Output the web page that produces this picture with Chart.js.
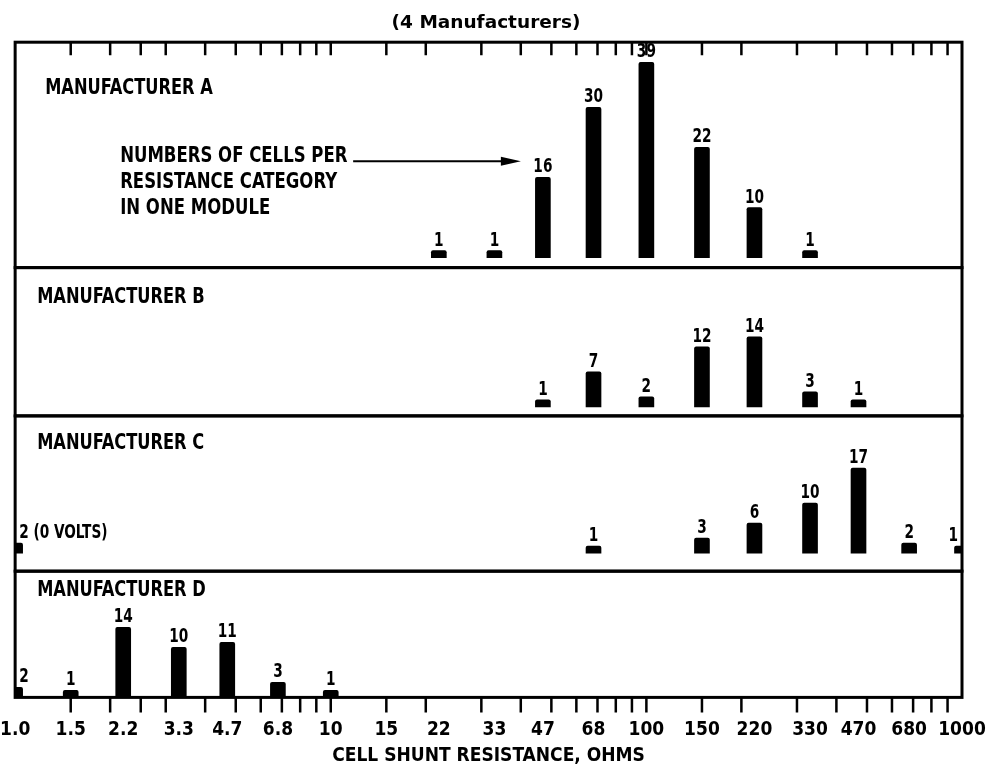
<!DOCTYPE html>
<html>
<head>
<meta charset="utf-8">
<script src="https://cdn.jsdelivr.net/npm/chart.js@4"></script>
<style>
  html, body { margin: 0; padding: 0; background: #fff; }
</style>
</head>
<body>
<canvas id="shuntChart" width="990" height="768"></canvas>
<script>
// resistance categories (ohms) and their printed labels
var resistances = [1.0, 1.5, 2.2, 3.3, 4.7, 6.8, 10, 15, 22, 33, 47, 68, 100, 150, 220, 330, 470, 680, 1000];
var tickLabels = ['1.0', '1.5', '2.2', '3.3', '4.7', '6.8', '10', '15', '22', '33', '47', '68', '100', '150', '220', '330', '470', '680', '1000'];
// small tick marks along the top and bottom edges
var minorTicks = [1.5, 2, 2.5, 3, 4, 5, 6, 7, 8, 9, 10, 15, 20, 30, 40, 50, 60, 70, 80, 90, 100, 150, 200, 300, 400, 500, 600, 700, 800, 900];

// number of cells per category, one array per manufacturer
var countsA = [null, null, null, null, null, null, null, null, 1, 1, 16, 30, 39, 22, 10, 1, null, null, null];
var countsB = [null, null, null, null, null, null, null, null, null, null, 1, 7, 2, 12, 14, 3, 1, null, null];
var countsC = [2, null, null, null, null, null, null, null, null, null, null, 1, null, 3, 6, 10, 17, 2, 1];
var countsD = [2, 1, 14, 10, 11, 3, 1, null, null, null, null, null, null, null, null, null, null, null, null];

var panelNames = ['MANUFACTURER A', 'MANUFACTURER B', 'MANUFACTURER C', 'MANUFACTURER D'];
var noteC = '(0 VOLTS)';
var calloutLines = ['NUMBERS OF CELLS PER', 'RESISTANCE CATEGORY', 'IN ONE MODULE'];

var NARROW = "'DejaVu Sans Condensed', 'DejaVu Sans', sans-serif";
var panelIds = ['yA', 'yB', 'yC', 'yD'];
var panelLabelPos = [[30, 52], [22, 35], [22, 33], [22, 25]];

function points(counts) {
    var out = [];
    for (var i = 0; i < resistances.length; i++) {
        if (counts[i] !== null) out.push({ x: resistances[i], y: counts[i] });
    }
    return out;
}

function panelSet(counts, axis) {
    return {
        data: points(counts),
        yAxisID: axis,
        backgroundColor: '#000',
        barThickness: 15,
        grouped: false,
        borderRadius: 2,
        minBarLength: 7
    };
}

function panelAxis(min, max, h, w) {
    return {
        type: 'linear',
        position: 'left',
        stack: 'panels',
        stackWeight: h,
        weight: w,
        min: min,
        max: max,
        ticks: { display: false },
        grid: { display: false, drawTicks: false },
        border: { display: false }
    };
}

// squeezed text, to get the tall condensed lettering of the original
function narrowText(ctx, txt, x, y, align, sx) {
    ctx.save();
    ctx.translate(x, y);
    ctx.scale(sx, 1);
    ctx.textAlign = align;
    ctx.fillText(txt, 0, 0);
    ctx.restore();
}

var decorations = {
    id: 'decorations',
    afterDatasetsDraw: function (chart) {
        var ctx = chart.ctx;
        var area = chart.chartArea;
        var xs = chart.scales.x;
        ctx.save();
        ctx.strokeStyle = '#000';
        ctx.fillStyle = '#000';
        ctx.textBaseline = 'alphabetic';

        // panel frames
        ctx.lineWidth = 3;
        panelIds.forEach(function (id) {
            var s = chart.scales[id];
            ctx.strokeRect(area.left, s.top, area.right - area.left, s.bottom - s.top);
        });

        // tick marks: inward on top, outward on bottom
        ctx.lineWidth = 2.5;
        minorTicks.forEach(function (v) {
            var px = xs.getPixelForValue(v);
            ctx.beginPath();
            ctx.moveTo(px, area.top);
            ctx.lineTo(px, area.top + 13);
            ctx.moveTo(px, area.bottom);
            ctx.lineTo(px, area.bottom + 15);
            ctx.stroke();
        });

        // panel names
        ctx.font = 'bold 21px ' + NARROW;
        panelIds.forEach(function (id, i) {
            var s = chart.scales[id];
            narrowText(ctx, panelNames[i], area.left + panelLabelPos[i][0], s.top + panelLabelPos[i][1], 'left', 0.86);
        });

        // value labels above bars
        var sx = 0.8;
        ctx.font = 'bold 19px ' + NARROW;
        chart.data.datasets.forEach(function (ds, di) {
            var meta = chart.getDatasetMeta(di);
            meta.data.forEach(function (bar, j) {
                var txt = String(ds.data[j].y);
                if (di === 2 && ds.data[j].x === resistances[0]) txt += ' ' + noteC;
                var w = ctx.measureText(txt).width * sx;
                var x = bar.x;
                var align = 'center';
                if (x - w / 2 < area.left + 3) {
                    align = 'left';
                    x = area.left + 4;
                } else if (x + w / 2 > area.right - 2) {
                    align = 'right';
                    x = area.right - 4;
                }
                narrowText(ctx, txt, x, bar.y - 5, align, sx);
            });
        });

        // callout text with arrow (panel A)
        var ya = chart.scales.yA;
        ctx.font = 'bold 22px ' + NARROW;
        calloutLines.forEach(function (line, i) {
            narrowText(ctx, line, area.left + 105, ya.top + 120 + i * 26, 'left', 0.835);
        });
        var ay = ya.top + 119;
        var tip = xs.getPixelForValue(resistances[10]) - 22;
        ctx.lineWidth = 2;
        ctx.beginPath();
        ctx.moveTo(area.left + 338, ay);
        ctx.lineTo(tip - 15, ay);
        ctx.stroke();
        ctx.beginPath();
        ctx.moveTo(tip, ay);
        ctx.lineTo(tip - 20, ay - 4.5);
        ctx.lineTo(tip - 20, ay + 4.5);
        ctx.closePath();
        ctx.fill();
        ctx.restore();
    }
};

var ctx = document.getElementById('shuntChart').getContext('2d');
new Chart(ctx, {
    type: 'bar',
    data: {
        datasets: [
            panelSet(countsA, 'yA'),
            panelSet(countsB, 'yB'),
            panelSet(countsC, 'yC'),
            panelSet(countsD, 'yD')
        ]
    },
    options: {
        responsive: false,
        animation: false,
        layout: { padding: { left: 10, right: 28, top: 0, bottom: 0 } },
        plugins: {
            legend: { display: false },
            tooltip: { enabled: false },
            title: {
                display: true,
                text: '(4 Manufacturers)',
                color: '#000',
                font: { family: "'DejaVu Sans', sans-serif", size: 18.5, weight: 'bold' },
                padding: { top: 12, bottom: 8 }
            }
        },
        scales: {
            x: {
                type: 'logarithmic',
                min: 1,
                max: 1000,
                offset: false,
                afterBuildTicks: function (scale) {
                    scale.ticks = resistances.map(function (v) { return { value: v }; });
                },
                ticks: {
                    autoSkip: false,
                    maxRotation: 0,
                    minRotation: 0,
                    padding: 0,
                    color: '#000',
                    font: { family: NARROW, size: 19, weight: 'bold' },
                    callback: function (v, i) { return tickLabels[i]; }
                },
                grid: { display: false, drawTicks: true, tickLength: 21 },
                border: { display: false },
                title: {
                    display: true,
                    text: 'CELL SHUNT RESISTANCE, OHMS',
                    color: '#000',
                    font: { family: NARROW, size: 19, weight: 'bold' },
                    padding: { top: 3, bottom: 1 }
                }
            },
            yA: panelAxis(-2, 43, 225, 4),
            yB: panelAxis(-1.8, 27.8, 148, 3),
            yC: panelAxis(-3.6, 27.4, 155, 2),
            yD: panelAxis(0, 25.2, 126, 1)
        }
    },
    plugins: [decorations]
});
</script>
</body>
</html>
